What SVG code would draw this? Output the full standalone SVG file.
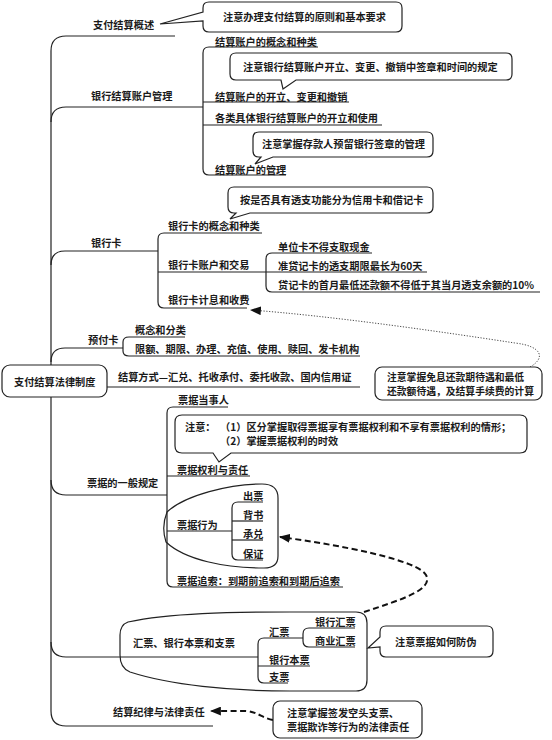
<svg xmlns="http://www.w3.org/2000/svg" width="552" height="740" viewBox="0 0 552 740">
<style>
text{font-family:"Noto Sans CJK SC","Noto Sans",sans-serif;font-size:10.2px;font-weight:bold;fill:#1a1a1a}
.sm{font-size:9.8px}
.ln{fill:none;stroke:#222;stroke-width:1.2}
.box{fill:#fff;stroke:#222;stroke-width:1.2}
.dot{fill:none;stroke:#333;stroke-width:0.9;stroke-dasharray:1.2,1.6}
.dash{fill:none;stroke:#111;stroke-width:2;stroke-dasharray:6,3.5}
</style>
<defs>
<marker id="ah" viewBox="0 0 10 8" refX="9" refY="4" markerWidth="11" markerHeight="9" markerUnits="userSpaceOnUse" orient="auto">
<path d="M0,0 L10,4 L0,8 Z" fill="#111"/>
</marker>
</defs>
<rect width="552" height="740" fill="#fff"/>

<g id="connectors">
<path class="ln" d="M175,36 H66 Q51,36 51,51 V711 Q51,726 66,726 H213"/>
<path class="ln" d="M51,122 Q51,107 66,107 H203"/>
<path class="ln" d="M51,265 Q51,251 65,251 H158"/>
<path class="ln" d="M51,362 Q51,348 65,348 H123"/>
<path class="ln" d="M107,387 H360"/>
<path class="ln" d="M51,480 Q51,495 66,495 H167"/>
<path class="ln" d="M51,642 Q51,657 66,657 H258"/>
<path class="ln" d="M318,47 H209 Q203,47 203,53 V169 Q203,175 209,175 H286"/>
<path class="ln" d="M203,102 H349"/>
<path class="ln" d="M203,125 H382"/>
<path class="ln" d="M262,233 H164 Q158,233 158,239 V302 Q158,308 164,308 H247"/>
<path class="ln" d="M158,272 H266"/>
<path class="ln" d="M372,253 H272 Q266,253 266,259 V286 Q266,292 272,292 H540"/>
<path class="ln" d="M266,272 H427"/>
<path class="ln" d="M185,337 H129 Q123,337 123,342 V351 Q123,356 129,356 H360"/>
<path class="ln" d="M228,407 H173 Q167,407 167,413 V581 Q167,587 173,587 H343"/>
<path class="ln" d="M167,476 H250"/>
<path class="ln" d="M167,531 H232"/>
<path class="ln" d="M263,502 H238 Q232,502 232,508 V554 Q232,560 238,560 H263"/>
<path class="ln" d="M232,521 H263"/>
<path class="ln" d="M232,540 H263"/>
<path class="ln" d="M167,512 C185,495 230,484 262,484 Q278,484 278,498 V556 Q278,568 264,568 C225,568 185,560 166,542 Q161,527 167,512 Z"/>
<path class="ln" d="M303,638 H264 Q258,638 258,644 V677 Q258,683 264,683 H288"/>
<path class="ln" d="M258,666 H310"/>
<path class="ln" d="M355,628 H309 Q303,628 303,634 V641 Q303,647 309,647 H355"/>
<path class="ln" d="M128,622 C170,613 230,612 290,612 H356 Q367,612 367,623 V680 Q367,691 356,691 H290 C230,691 170,685 130,672 Q120,668 120,655 V635 Q120,625 128,622 Z"/>
<path class="dot" d="M530,367 C546,358 542,346 515,343 C430,330 330,316 251,310" marker-end="url(#ah)"/>
<path class="dash" d="M364,612 C400,600 434,590 426,575 C418,560 340,545 280,537" marker-end="url(#ah)"/>
<path class="dash" d="M273,720 C262,718 258,712 246,711 H211" marker-end="url(#ah)"/>
</g>

<g id="root">
<rect class="box" x="2" y="365" width="105" height="32" rx="8"/>
<text x="14" y="386">支付结算法律制度</text>
</g>

<g id="n-overview">
<text x="93" y="29">支付结算概述</text>
<path class="box" d="M209,2 H396 Q402,2 402,8 V26 Q402,32 396,32 H209 Q203,32 203,26 V21 L160,24 L203,12 V8 Q203,2 209,2 Z"/>
<text x="223" y="21">注意办理支付结算的原则和基本要求</text>
</g>

<g id="n-account">
<text x="91" y="100">银行结算账户管理</text>
<text x="215" y="46">结算账户的概念和种类</text>
<path class="box" d="M236,53 H506 Q512,53 512,59 V74 Q512,80 506,80 H296 L283,89 L281,80 H236 Q230,80 230,74 V59 Q230,53 236,53 Z"/>
<text x="243" y="71">注意银行结算账户开立、变更、撤销中签章和时间的规定</text>
<text x="215" y="101">结算账户的开立、变更和撤销</text>
<text x="215" y="122">各类具体银行结算账户的开立和使用</text>
<path class="box" d="M259,132 H427 Q433,132 433,138 V151 Q433,157 427,157 H273 L255,164 L261,157 H259 Q253,157 253,151 V138 Q253,132 259,132 Z"/>
<text x="262" y="148">注意掌握存款人预留银行签章的管理</text>
<text x="215" y="174">结算账户的管理</text>
</g>

<g id="n-card">
<text x="91" y="247">银行卡</text>
<path class="box" d="M234,187 H427 Q433,187 433,193 V207 Q433,213 427,213 H250 L230,219 L236,213 H234 Q228,213 228,207 V193 Q228,187 234,187 Z"/>
<text x="240" y="204">按是否具有透支功能分为信用卡和借记卡</text>
<text x="168" y="230">银行卡的概念和种类</text>
<text x="168" y="269">银行卡账户和交易</text>
<text x="278" y="251">单位卡不得支取现金</text>
<text x="278" y="270">准贷记卡的透支期限最长为60天</text>
<text x="278" y="289">贷记卡的首月最低还款额不得低于其当月透支余额的10%</text>
<text x="168" y="304">银行卡计息和收费</text>
<rect class="box" x="375" y="367" width="167" height="33" rx="7"/>
<text class="sm" x="387" y="381">注意掌握免息还款期待遇和最低</text>
<text class="sm" x="387" y="395">还款额待遇，及结算手续费的计算</text>
</g>

<g id="n-prepaid">
<text x="88" y="344">预付卡</text>
<text x="135" y="334">概念和分类</text>
<text x="135" y="353">限额、期限、办理、充值、使用、赎回、发卡机构</text>
</g>

<g id="n-method">
<text x="118" y="381">结算方式—汇兑、托收承付、委托收款、国内信用证</text>
</g>

<g id="n-bill">
<text x="87" y="487">票据的一般规定</text>
<text x="178" y="404">票据当事人</text>
<path class="box" d="M182,415 H520 Q527,415 527,422 V446 Q527,453 520,453 H231 L219,462 L213,453 H182 Q175,453 175,446 V422 Q175,415 182,415 Z"/>
<text x="185" y="431">注意：</text>
<text x="220" y="431">（1）区分掌握取得票据享有票据权利和不享有票据权利的情形；</text>
<text x="220" y="445">（2）掌握票据权利的时效</text>
<text x="177" y="474">票据权利与责任</text>
<text x="177" y="529">票据行为</text>
<text x="243" y="500">出票</text>
<text x="243" y="519">背书</text>
<text x="243" y="538">承兑</text>
<text x="243" y="558">保证</text>
<text x="177" y="585">票据追索：到期前追索和到期后追索</text>
</g>

<g id="n-draft">
<text x="133" y="647">汇票、银行本票和支票</text>
<text x="269" y="636">汇票</text>
<text x="315" y="626">银行汇票</text>
<text x="315" y="645">商业汇票</text>
<text x="269" y="664">银行本票</text>
<text x="269" y="681">支票</text>
<path class="box" d="M386,626 H487 Q493,626 493,632 V651 Q493,657 487,657 H386 Q380,657 380,651 V647 L368,648 L380,637 V632 Q380,626 386,626 Z"/>
<text x="395" y="646">注意票据如何防伪</text>
</g>

<g id="n-discipline">
<text x="113" y="716">结算纪律与法律责任</text>
<rect class="box" x="273" y="701" width="149" height="37" rx="7"/>
<text x="287" y="717">注意掌握签发空头支票、</text>
<text x="287" y="731">票据欺诈等行为的法律责任</text>
</g>
</svg>
